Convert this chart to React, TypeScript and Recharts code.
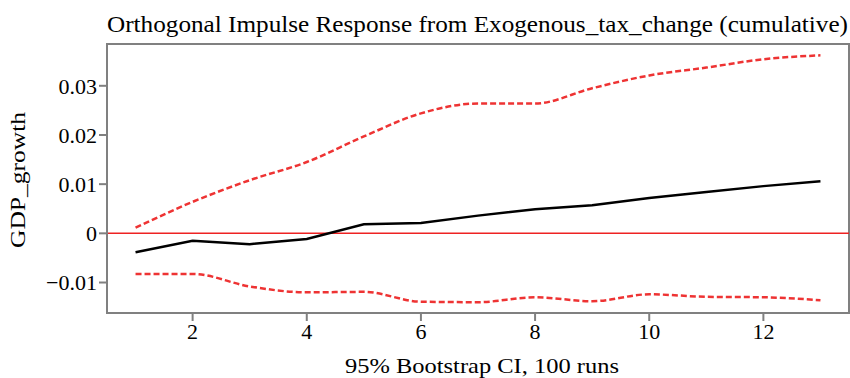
import React from "react";
import { LineChart, Line, XAxis, YAxis, ReferenceLine, ReferenceArea, Label } from "recharts";

const steps = [1, 2, 3, 4, 5, 6, 7, 8, 9, 10, 11, 12, 13];
const irf = [-0.00385, -0.0015, -0.0022, -0.00116, 0.00183, 0.0021, 0.0036, 0.0049, 0.0057, 0.0072, 0.0084, 0.0096, 0.0106];
const upper = [0.00114, 0.0064, 0.0108, 0.0145, 0.0197, 0.0244, 0.0264, 0.0264, 0.0295, 0.0321, 0.0337, 0.0354, 0.0362];
const lower = [-0.00826, -0.00826, -0.0108, -0.012, -0.0119, -0.0139, -0.014, -0.013, -0.0138, -0.0124, -0.0129, -0.013, -0.0136];
const xTicks = [2, 4, 6, 8, 10, 12];
const yTicks = [-0.01, 0, 0.01, 0.02, 0.03];
const xDomain: [number, number] = [0.5, 13.5];
const yDomain: [number, number] = [-0.0162, 0.0385];

const titleText = "Orthogonal Impulse Response from Exogenous_tax_change (cumulative)";
const xLabelText = "95% Bootstrap CI, 100 runs";
const yLabelText = "GDP_growth";

const data = steps.map((s, i) => ({ step: s, irf: irf[i], upper: upper[i], lower: lower[i] }));

const FONT = "'Liberation Serif', serif";
const fmtY = (v: number) => (v === 0 ? "0" : v < 0 ? "\u2212" + String(Math.abs(v)) : String(v));

const XLabelContent = () => (
  <text x={482} y={373} textAnchor="middle" fill="#000" fontSize={22} fontFamily={FONT} textLength={274} lengthAdjust="spacingAndGlyphs">
    {xLabelText}
  </text>
);

const YLabelContent = () => (
  <text x={-180} y={25} transform="rotate(-90)" textAnchor="middle" fill="#000" fontSize={22} fontFamily={FONT} textLength={136} lengthAdjust="spacingAndGlyphs">
    {yLabelText}
  </text>
);

export default function App() {
  return (
    <div style={{ position: "absolute", left: 0, top: 0, width: 850, height: 378, background: "#fff" }}>
      <svg width={850} height={40} style={{ position: "absolute", left: 0, top: 0 }}>
        <text x={107} y={32} fill="#000" fontSize={24} fontFamily={FONT} textLength={741} lengthAdjust="spacingAndGlyphs">
          {titleText}
        </text>
      </svg>
      <div style={{ position: "absolute", left: 0, top: 0 }}>
        <LineChart width={850} height={378} data={data} margin={{ top: 44, right: 1, bottom: 0, left: 0 }}>
          <XAxis
            dataKey="step"
            type="number"
            domain={xDomain}
            ticks={xTicks}
            allowDataOverflow
            height={65}
            tickSize={8}
            axisLine={{ stroke: "#808080", strokeWidth: 2 }}
            tickLine={{ stroke: "#808080", strokeWidth: 2 }}
            tick={{ fill: "#000", fontSize: 22, fontFamily: FONT }}
          >
            <Label content={<XLabelContent />} />
          </XAxis>
          <YAxis
            type="number"
            domain={yDomain}
            ticks={yTicks}
            allowDataOverflow
            width={107}
            tickSize={8}
            tickFormatter={fmtY}
            axisLine={{ stroke: "#808080", strokeWidth: 2 }}
            tickLine={{ stroke: "#808080", strokeWidth: 2 }}
            tick={{ fill: "#000", fontSize: 22, fontFamily: FONT }}
          >
            <Label content={<YLabelContent />} />
          </YAxis>
          <ReferenceArea x1={xDomain[0]} x2={xDomain[1]} y1={yDomain[0]} y2={yDomain[1]} fill="none" fillOpacity={0} stroke="#808080" strokeWidth={2} ifOverflow="visible" />
          <ReferenceLine y={0} stroke="#ee2222" strokeWidth={1.5} />
          <Line dataKey="upper" type="monotone" stroke="#ee3333" strokeWidth={2.5} strokeDasharray="6 3" dot={false} isAnimationActive={false} />
          <Line dataKey="lower" type="monotone" stroke="#ee3333" strokeWidth={2.5} strokeDasharray="6 3" dot={false} isAnimationActive={false} />
          <Line dataKey="irf" type="linear" stroke="#000" strokeWidth={2.5} dot={false} isAnimationActive={false} />
        </LineChart>
      </div>
    </div>
  );
}
